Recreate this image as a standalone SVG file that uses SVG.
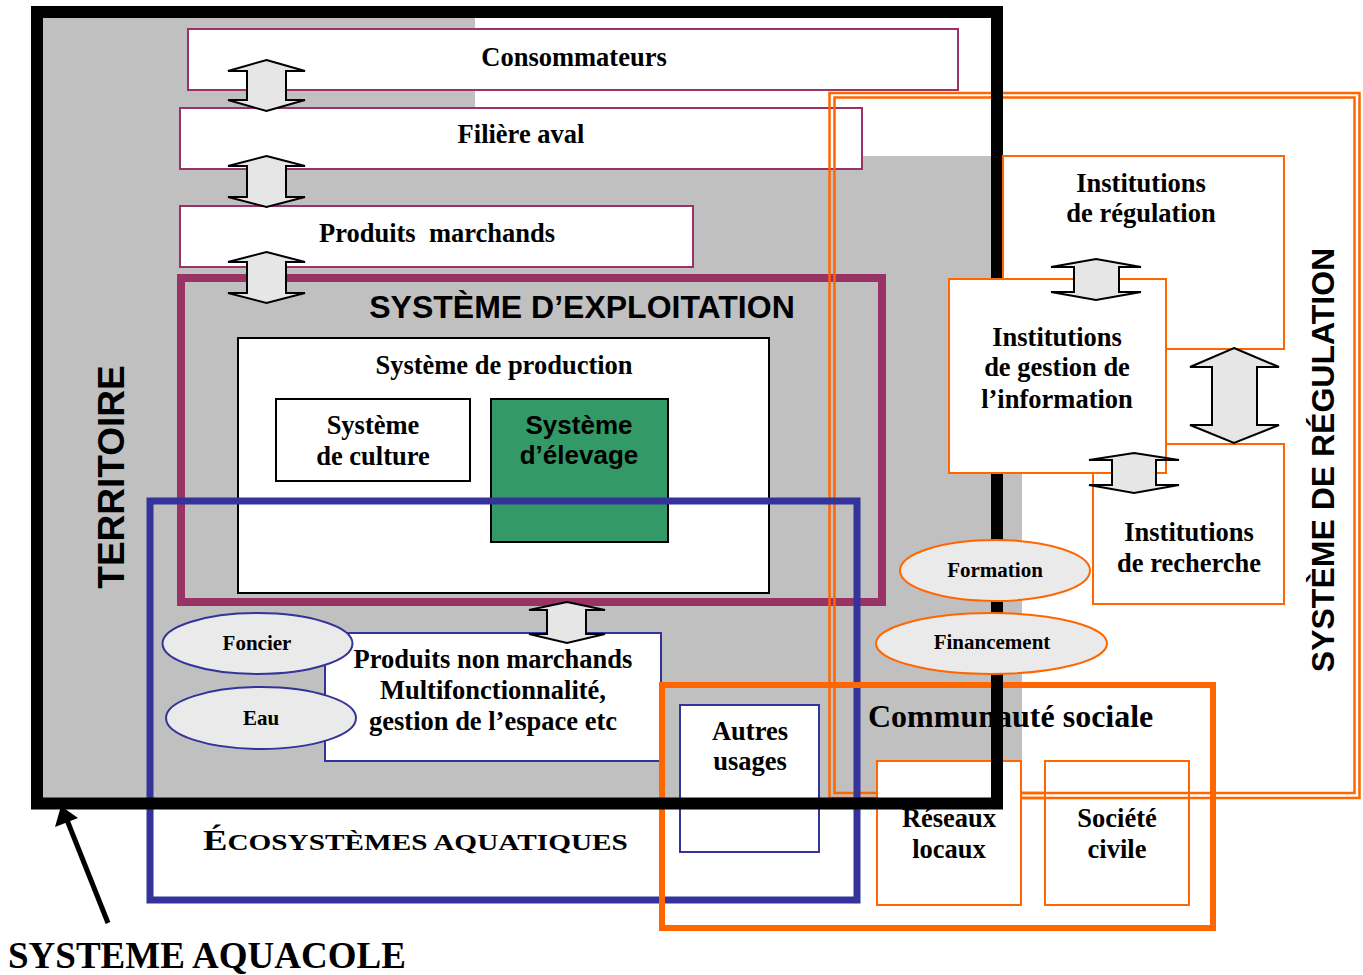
<svg xmlns="http://www.w3.org/2000/svg" width="1363" height="975" viewBox="0 0 1363 975">
<style>
.t{font-family:"Liberation Serif","Times New Roman",serif;font-weight:bold;font-size:26.5px;fill:#000;text-anchor:middle}
.s{font-size:21px}
.a{font-family:"Liberation Sans",Arial,sans-serif;font-weight:bold;fill:#000;text-anchor:middle}
.pbox{fill:#fff;stroke:#993366;stroke-width:2}
.obox{fill:#fff;stroke:#ff6600;stroke-width:2}
.bbox{fill:#fff;stroke:#333399;stroke-width:2}
.kbox{fill:#fff;stroke:#000;stroke-width:2}
.dar{fill:#e6e6e6;stroke:#000;stroke-width:2;stroke-linejoin:miter}
.ell{fill:#eaeaea;stroke-width:2}
</style>
<rect x="0" y="0" width="1363" height="975" fill="#fff"/>
<g id="territoire-fond">
<polygon points="43,18 475,18 475,156 1022,156 1022,798 43,798" fill="#c0c0c0"/>
</g>
<g id="consommateurs"><rect class="pbox" x="188" y="29" width="770" height="61"/><text class="t" x="574" y="66">Consommateurs</text></g>
<g id="filiere-aval"><rect class="pbox" x="180" y="108" width="682" height="61"/><text class="t" x="521" y="143">Filière aval</text></g>
<g id="produits-marchands"><rect class="pbox" x="180" y="206" width="513" height="61"/><text class="t" x="437" y="242" style="white-space:pre">Produits  marchands</text></g>
<g id="systeme-exploitation"><rect x="181" y="278" width="701" height="324" fill="none" stroke="#993366" stroke-width="8"/><text class="a" x="582" y="318" font-size="32">SYSTÈME D’EXPLOITATION</text></g>
<g id="systeme-production"><rect class="kbox" x="238" y="338" width="531" height="255"/><text class="t" x="504" y="374">Système de production</text></g>
<g id="systeme-culture"><rect class="kbox" x="276" y="399" width="194" height="82"/><text class="t" x="373" y="434">Système</text><text class="t" x="373" y="465">de culture</text></g>
<g id="systeme-elevage"><rect x="491" y="399" width="177" height="143" fill="#339966" stroke="#000" stroke-width="2"/><text class="a" x="579" y="434" font-size="26">Système</text><text class="a" x="579" y="464" font-size="26">d’élevage</text></g>
<g id="systeme-regulation"><rect x="829.5" y="93" width="530" height="705" fill="none" stroke="#ff6600" stroke-width="2.5"/><rect x="834.5" y="97.5" width="520" height="695.5" fill="none" stroke="#ff6600" stroke-width="2.5"/><text class="a" font-size="32" transform="translate(1334,460) rotate(-90)" x="0" y="0">SYSTÈME DE RÉGULATION</text></g>
<g id="ecosystemes"><rect x="150" y="501" width="707" height="399" fill="none" stroke="#333399" stroke-width="7"/><text class="t" transform="translate(203,850) scale(1.22,1)" x="0" y="0" style="text-anchor:start;font-size:24px"><tspan style="font-size:30px">É</tspan>COSYSTÈMES AQUATIQUES</text></g>
<g id="produits-non-marchands"><rect class="bbox" x="325" y="633" width="336" height="128"/><text class="t" x="493" y="668">Produits non marchands</text><text class="t" x="493" y="699">Multifonctionnalité,</text><text class="t" x="493" y="730">gestion de l’espace etc</text></g>
<g id="autres-usages"><rect class="bbox" x="680" y="705" width="139" height="147"/><text class="t" x="750" y="740">Autres</text><text class="t" x="750" y="770">usages</text></g>
<g id="societe-civile"><rect class="obox" x="1045" y="761" width="144" height="144"/><text class="t" x="1117" y="827">Société</text><text class="t" x="1117" y="858">civile</text></g>
<g id="regulation-lignes-bas"><line x1="1021" y1="793" x2="1190" y2="793" stroke="#ff6600" stroke-width="2.5"/><line x1="1021" y1="798" x2="1190" y2="798" stroke="#ff6600" stroke-width="2.5"/></g>
<g id="reseaux-locaux"><rect class="obox" x="877" y="761" width="144" height="144"/><text class="t" x="949" y="827">Réseaux</text><text class="t" x="949" y="858">locaux</text></g>
<g id="communaute-sociale"><rect x="662" y="685" width="551" height="243" fill="none" stroke="#ff6600" stroke-width="6"/><text class="t" x="868" y="727" style="text-anchor:start;font-size:32px">Communauté sociale</text></g>
<g id="territoire"><rect x="37" y="12" width="960" height="791.5" fill="none" stroke="#000" stroke-width="12"/><text class="a" font-size="37" transform="translate(124,477) rotate(-90)" x="0" y="0">TERRITOIRE</text></g>
<g id="institutions-regulation"><rect class="obox" x="1003" y="156" width="281" height="193"/><text class="t" x="1141" y="192">Institutions</text><text class="t" x="1141" y="222">de régulation</text></g>
<g id="institutions-recherche"><rect class="obox" x="1093" y="444" width="191" height="160"/><text class="t" x="1189" y="541">Institutions</text><text class="t" x="1189" y="572">de recherche</text></g>
<g id="institutions-gestion"><rect class="obox" x="949" y="279" width="217" height="194"/><text class="t" x="1057" y="346">Institutions</text><text class="t" x="1057" y="376">de gestion de</text><text class="t" x="1057" y="408">l’information</text></g>
<g id="foncier"><ellipse class="ell" cx="257.5" cy="643.5" rx="95" ry="30.5" stroke="#333399"/><text class="t s" x="257" y="650">Foncier</text></g>
<g id="eau"><ellipse class="ell" cx="261" cy="718" rx="95" ry="31" stroke="#333399"/><text class="t s" x="261" y="725">Eau</text></g>
<g id="formation"><ellipse class="ell" cx="995" cy="570.5" rx="95" ry="30.5" stroke="#ff6600"/><text class="t s" x="995" y="577">Formation</text></g>
<g id="financement"><ellipse class="ell" cx="991.5" cy="643.5" rx="115.5" ry="30.5" stroke="#ff6600"/><text class="t s" x="992" y="649">Financement</text></g>
<g id="connecteurs">
<path class="dar" d="M266.5,60 L305,71 L286,71 L286,100 L305,100 L266.5,111 L228,100 L247,100 L247,71 L228,71 Z"/>
<path class="dar" d="M266.5,156 L305,166 L286,166 L286,197 L305,197 L266.5,207 L228,197 L247,197 L247,166 L228,166 Z"/>
<path class="dar" d="M266.5,252 L305,262 L286,262 L286,293 L305,293 L266.5,303 L228,293 L247,293 L247,262 L228,262 Z"/>
<path class="dar" d="M567,602 L605,610 L586,610 L586,634 L605,634 L567,643 L529,634 L547,634 L547,610 L529,610 Z"/>
<path class="dar" d="M1096,259 L1141,267 L1119,267 L1119,292 L1141,292 L1096,300 L1051,292 L1074,292 L1074,267 L1051,267 Z"/>
<path class="dar" d="M1234,348 L1279,367 L1257,367 L1257,425 L1279,425 L1234,443 L1190,425 L1212,425 L1212,367 L1190,367 Z"/>
<path class="dar" d="M1134,453 L1179,460 L1156,460 L1156,485 L1179,485 L1134,493 L1089,485 L1112,485 L1112,460 L1089,460 Z"/>
<line x1="108" y1="923" x2="67" y2="820" stroke="#000" stroke-width="5"/>
<polygon points="61,806 55,827 78,818" fill="#000"/>
</g>
<g id="systeme-aquacole"><text class="t" x="8" y="968" style="text-anchor:start;font-size:37px">SYSTEME AQUACOLE</text></g>
</svg>
